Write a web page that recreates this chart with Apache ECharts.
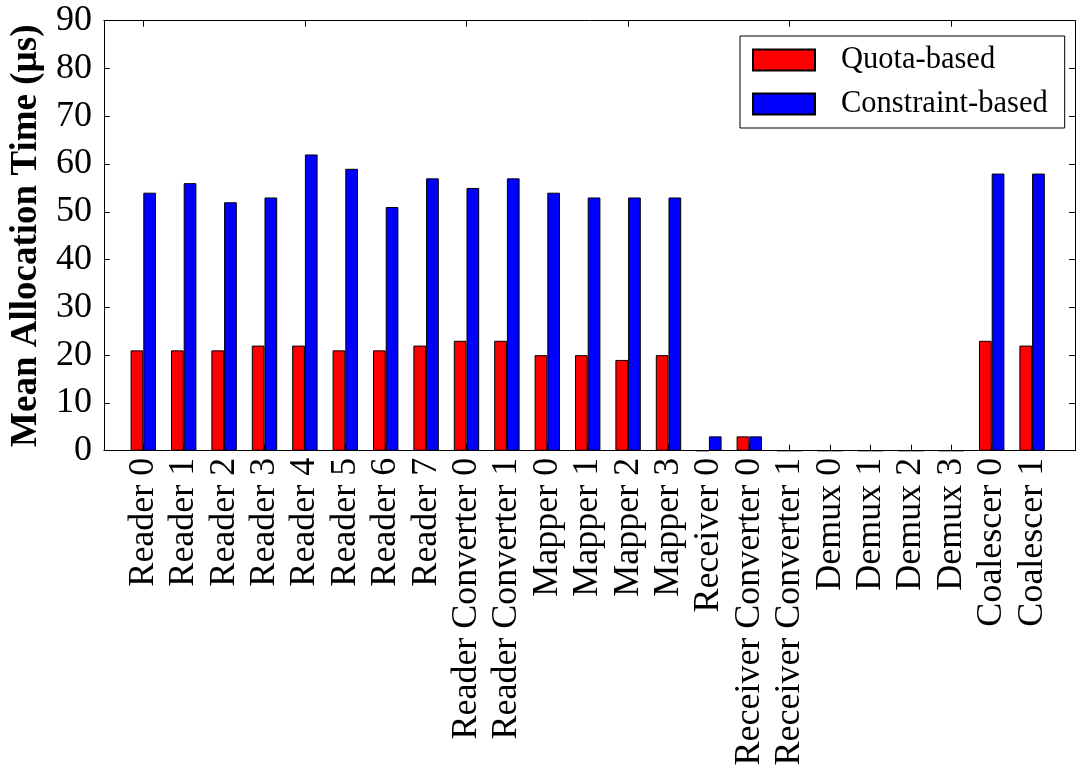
<!DOCTYPE html>
<html>
<head>
<meta charset="utf-8">
<script src="https://cdn.jsdelivr.net/npm/echarts@6/dist/echarts.min.js"></script>
<style>
  html, body { margin: 0; padding: 0; background: #fff; }
  #chart { width: 1076px; height: 778px; }
</style>
</head>
<body>
<div id="chart"></div>
<script>
// Pipeline stages on the horizontal axis
const categories = [
  'Reader 0', 'Reader 1', 'Reader 2', 'Reader 3', 'Reader 4', 'Reader 5', 'Reader 6', 'Reader 7',
  'Reader Converter 0', 'Reader Converter 1',
  'Mapper 0', 'Mapper 1', 'Mapper 2', 'Mapper 3',
  'Receiver 0', 'Receiver Converter 0', 'Receiver Converter 1',
  'Demux 0', 'Demux 1', 'Demux 2', 'Demux 3',
  'Coalescer 0', 'Coalescer 1'
];

// Mean allocation time per stage (µs)
const quotaBased = [21, 21, 21, 22, 22, 21, 21, 22, 23, 23, 20, 20, 19, 20, 0, 3, 0, 0, 0, 0, 0, 23, 22];
const constraintBased = [54, 56, 52, 53, 62, 59, 51, 57, 55, 57, 54, 53, 53, 53, 3, 3, 0, 0, 0, 0, 0, 58, 58];

// Y axis ticks
const yTicks = [0, 10, 20, 30, 40, 50, 60, 70, 80, 90];

const seriesNames = ['Quota-based', 'Constraint-based'];

const FONT = '"Liberation Serif", "Times New Roman", serif';
const BLACK = '#000';

// Outer frame grid (spines + y axis) and inner grid holding the category bands,
// which leaves a wider margin at both ends of the x range.
const frameGrid = { left: 99, right: 1, top: 20.7, bottom: 327.3 };
const barGrid = { left: 123.1, right: 23.7, top: 20.7, bottom: 327.3 };

const spine = { show: true, onZero: false, lineStyle: { color: BLACK, width: 1 } };
const inTick = { show: true, inside: true, length: 6, lineStyle: { color: BLACK, width: 1 } };

const yRange = {
  type: 'value',
  min: yTicks[0],
  max: yTicks[yTicks.length - 1],
  interval: yTicks[1] - yTicks[0],
  splitLine: { show: false }
};

const chart = echarts.init(document.getElementById('chart'), null, { renderer: 'canvas' });
chart.setOption({
  animation: false,
  backgroundColor: '#fff',
  textStyle: { fontFamily: FONT, color: BLACK },
  grid: [
    Object.assign({ containLabel: false }, frameGrid),
    Object.assign({ containLabel: false }, barGrid)
  ],
  legend: {
    data: seriesNames,
    orient: 'vertical',
    left: 740,
    top: 36,
    padding: [8.5, 17, 8.5, 12],
    icon: 'rect',
    itemWidth: 62,
    itemHeight: 21,
    itemGap: 13,
    borderColor: BLACK,
    borderWidth: 1,
    borderRadius: 0,
    backgroundColor: '#fff',
    textStyle: { fontFamily: FONT, fontSize: 30.5, color: BLACK, padding: [0, 0, 0, 21] }
  },
  xAxis: [
    // frame: bottom and top spines
    { type: 'value', gridIndex: 0, min: 0, max: 1, position: 'bottom', axisLine: spine,
      axisTick: { show: false }, axisLabel: { show: false }, splitLine: { show: false } },
    { type: 'value', gridIndex: 0, min: 0, max: 1, position: 'top', axisLine: spine,
      axisTick: { show: false }, axisLabel: { show: false }, splitLine: { show: false } },
    // stage categories with labels and ticks
    { type: 'category', gridIndex: 1, data: categories, position: 'bottom',
      axisLine: { show: false },
      axisTick: Object.assign({ alignWithLabel: true }, inTick),
      axisLabel: { rotate: 90, margin: 7, fontFamily: FONT, fontSize: 36, color: BLACK, interval: 0 } },
    { type: 'category', gridIndex: 1, data: categories, position: 'top',
      axisLine: { show: false },
      axisTick: Object.assign({ alignWithLabel: true }, inTick),
      axisLabel: { show: false } }
  ],
  yAxis: [
    Object.assign({}, yRange, {
      gridIndex: 0,
      position: 'left',
      axisLine: spine,
      axisTick: inTick,
      name: 'Mean Allocation Time (µs)',
      nameLocation: 'middle',
      nameRotate: 90,
      nameGap: 55,
      nameTextStyle: { fontFamily: FONT, fontSize: 37, fontWeight: 'bold', color: BLACK },
      axisLabel: { fontFamily: FONT, fontSize: 36, color: BLACK, margin: 12 }
    }),
    Object.assign({}, yRange, {
      gridIndex: 0,
      position: 'right',
      axisLine: spine,
      axisTick: inTick,
      axisLabel: { show: false }
    }),
    Object.assign({}, yRange, { gridIndex: 1, show: false })
  ],
  series: [
    {
      name: seriesNames[0],
      type: 'bar',
      xAxisIndex: 2,
      yAxisIndex: 2,
      barWidth: 12.7,
      barGap: '0%',
      data: quotaBased,
      itemStyle: { color: '#ff0000', borderColor: BLACK, borderWidth: 1 }
    },
    {
      name: seriesNames[1],
      type: 'bar',
      xAxisIndex: 2,
      yAxisIndex: 2,
      barWidth: 12.7,
      barGap: '0%',
      data: constraintBased,
      itemStyle: { color: '#0000ff', borderColor: BLACK, borderWidth: 1 }
    }
  ]
});
</script>
</body>
</html>
